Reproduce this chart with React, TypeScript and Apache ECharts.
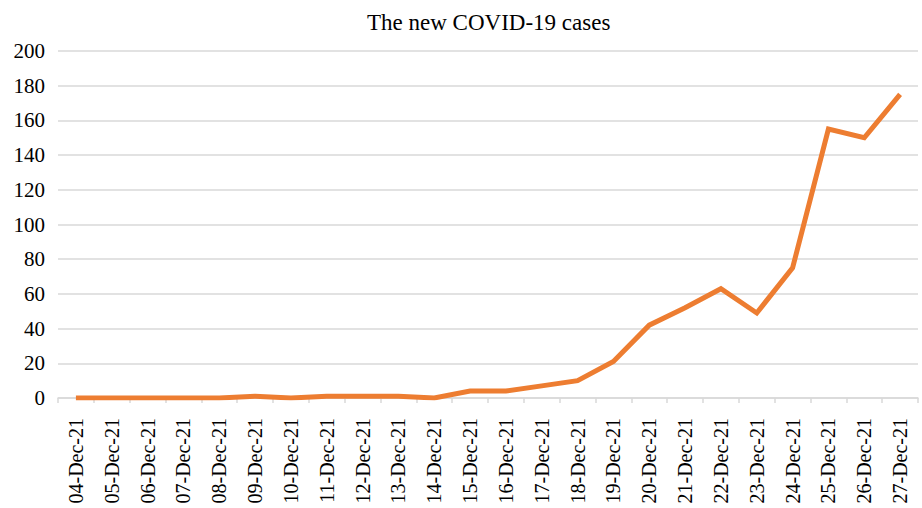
import React, { useEffect, useRef } from "react";
import * as echarts from "echarts";

const categories = [
  "04-Dec-21", "05-Dec-21", "06-Dec-21", "07-Dec-21", "08-Dec-21", "09-Dec-21",
  "10-Dec-21", "11-Dec-21", "12-Dec-21", "13-Dec-21", "14-Dec-21", "15-Dec-21",
  "16-Dec-21", "17-Dec-21", "18-Dec-21", "19-Dec-21", "20-Dec-21", "21-Dec-21",
  "22-Dec-21", "23-Dec-21", "24-Dec-21", "25-Dec-21", "26-Dec-21", "27-Dec-21",
];
const newCases = [0, 0, 0, 0, 0, 1, 0, 1, 1, 1, 0, 4, 4, 7, 10, 21, 42, 52, 63, 49, 75, 155, 150, 175];
const titleText = "The new COVID-19 cases";

export default function App() {
  const ref = useRef<HTMLDivElement>(null);
  useEffect(() => {
    if (!ref.current) return;
    const chart = echarts.init(ref.current, undefined, { renderer: "svg" });
    const font = "Times New Roman, Liberation Serif, DejaVu Serif, serif";
    chart.setOption({
      animation: false,
      backgroundColor: "#ffffff",
      textStyle: { fontFamily: font },
      title: {
        text: titleText,
        left: 367,
        top: 11,
        padding: 0,
        textStyle: { fontFamily: font, fontSize: 23, fontWeight: "normal", color: "#000" },
      },
      grid: { left: 58, right: 4, top: 51, bottom: 110, containLabel: false },
      xAxis: {
        type: "category",
        data: categories,
        boundaryGap: true,
        axisLine: { lineStyle: { color: "#d9d9d9", width: 1.5 } },
        axisTick: { show: true, alignWithLabel: false, length: 5, lineStyle: { color: "#d9d9d9", width: 1.5 } },
        axisLabel: {
          rotate: 90,
          interval: 0,
          margin: 20,
          fontFamily: font,
          fontSize: 20,
          color: "#000",
        },
      },
      yAxis: {
        type: "value",
        min: 0,
        max: 200,
        interval: 20,
        axisLine: { show: false },
        axisTick: { show: false },
        splitLine: { lineStyle: { color: "#d9d9d9", width: 1.5 } },
        axisLabel: { fontFamily: font, fontSize: 21, color: "#000", margin: 13 },
      },
      series: [
        {
          type: "line",
          data: newCases,
          symbol: "none",
          lineStyle: { color: "#ED7D31", width: 5, join: "miter" },
          itemStyle: { color: "#ED7D31" },
        },
      ],
    });
    return () => chart.dispose();
  }, []);
  return <div ref={ref} style={{ width: 922, height: 508, position: "absolute", left: 0, top: 0 }} />;
}
